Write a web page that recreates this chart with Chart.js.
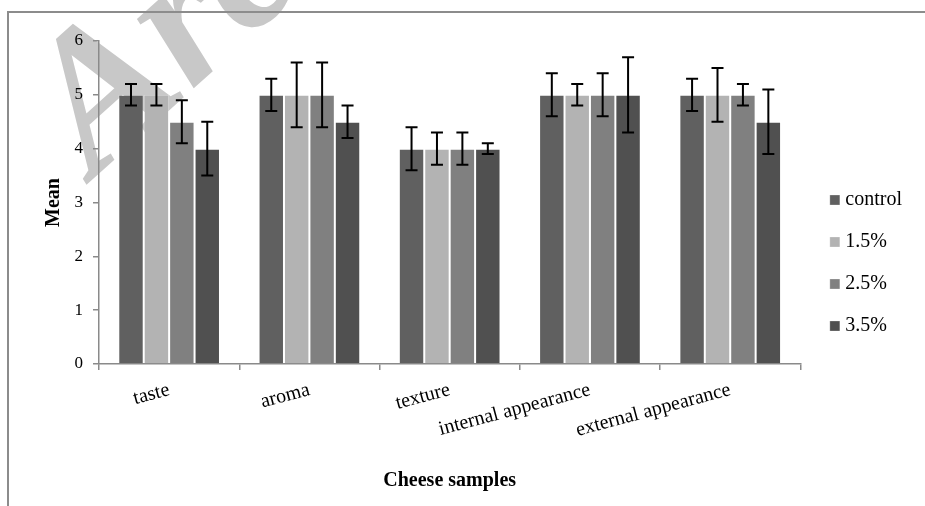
<!DOCTYPE html>
<html>
<head>
<meta charset="utf-8">
<script src="https://cdn.jsdelivr.net/npm/chart.js@4/dist/chart.umd.min.js"></script>
<style>
  html, body { margin: 0; padding: 0; background: #ffffff; }
  #wrap { width: 925px; height: 506px; position: relative; }
</style>
</head>
<body>
<div id="wrap"><canvas id="c" width="925" height="506"></canvas></div>
<script>
// ---- data ----
const categories = ['taste', 'aroma', 'texture', 'internal appearance', 'external appearance'];
const seriesNames = ['control', '1.5%', '2.5%', '3.5%'];
const controlValues = [5, 5, 4, 5, 5];
const p15Values     = [5, 5, 4, 5, 5];
const p25Values     = [4.5, 5, 4, 5, 5];
const p35Values     = [4, 4.5, 4, 5, 4.5];
const controlErr = [0.2, 0.3, 0.4, 0.4, 0.3];
const p15Err     = [0.2, 0.6, 0.3, 0.2, 0.5];
const p25Err     = [0.4, 0.6, 0.3, 0.4, 0.2];
const p35Err     = [0.5, 0.3, 0.1, 0.7, 0.6];
const yTicks = [0, 1, 2, 3, 4, 5, 6];

const seriesValues = [controlValues, p15Values, p25Values, p35Values];
const seriesErrors = [controlErr, p15Err, p25Err, p35Err];
const seriesColors = ['#606060', '#b3b3b3', '#808080', '#505050'];

const SERIF = '"Liberation Serif", "Times New Roman", serif';
const AXIS = '#8a8a8a';

const watermark = {
  id: 'watermark',
  beforeDraw(chart) {
    const ctx = chart.ctx;
    ctx.save();
    ctx.translate(94, 178);
    ctx.rotate(-42 * Math.PI / 180);
    ctx.font = 'italic bold 195px ' + SERIF;
    ctx.fillStyle = '#c8c8c8';
    ctx.textBaseline = 'alphabetic';
    ctx.fillText('Archive of SID', 0, 0);
    ctx.restore();
  }
};

const frame = {
  id: 'frame',
  afterDraw(chart) {
    const ctx = chart.ctx;
    ctx.save();
    ctx.strokeStyle = '#8c8c8c';
    ctx.lineWidth = 2;
    ctx.beginPath();
    ctx.moveTo(8, 506);
    ctx.lineTo(8, 12);
    ctx.lineTo(925, 12);
    ctx.stroke();
    ctx.restore();
  }
};

const errorBars = {
  id: 'errorBars',
  afterDatasetsDraw(chart) {
    const ctx = chart.ctx;
    const y = chart.scales.y;
    ctx.save();
    ctx.strokeStyle = '#000000';
    ctx.lineWidth = 2;
    chart.data.datasets.forEach((ds, di) => {
      const meta = chart.getDatasetMeta(di);
      const errs = seriesErrors[di];
      meta.data.forEach((bar, i) => {
        const v = ds.data[i];
        const e = errs[i];
        const x = bar.x;
        const yt = y.getPixelForValue(v + e);
        const yb = y.getPixelForValue(v - e);
        const cap = 6;
        ctx.beginPath();
        ctx.moveTo(x, yt); ctx.lineTo(x, yb);
        ctx.moveTo(x - cap, yt); ctx.lineTo(x + cap, yt);
        ctx.moveTo(x - cap, yb); ctx.lineTo(x + cap, yb);
        ctx.stroke();
      });
    });
    ctx.restore();
  }
};

const legendPlace = {
  id: 'legendPlace',
  afterLayout(chart) {
    const lg = chart.legend;
    if (!lg) return;
    const w = lg.right - lg.left;
    const h = lg.bottom - lg.top;
    lg.left = chart.chartArea.right + 12;
    lg.right = lg.left + w;
    lg.top = 168;
    lg.bottom = lg.top + h;
  }
};

new Chart(document.getElementById('c'), {
  type: 'bar',
  data: {
    labels: categories,
    datasets: seriesNames.map((name, i) => ({
      label: name,
      data: seriesValues[i],
      backgroundColor: seriesColors[i],
      borderColor: 'rgba(255,255,255,0.25)',
      borderWidth: 1,
      categoryPercentage: 0.725,
      barPercentage: 1.0
    }))
  },
  options: {
    responsive: false,
    animation: false,
    devicePixelRatio: 1,
    layout: { padding: { top: 41, left: 0, right: 25, bottom: 0 } },
    plugins: {
      tooltip: { enabled: false },
      legend: {
        position: 'right',
        align: 'start',
        labels: {
          usePointStyle: true,
          pointStyle: 'rect',
          boxWidth: 1,
          boxHeight: 10,
          padding: 22,
          color: '#000000',
          font: { family: SERIF, size: 20 }
        }
      }
    },
    scales: {
      x: {
        grid: { display: true, drawOnChartArea: false, drawTicks: true, tickLength: 6, color: AXIS, lineWidth: 1.5, offset: true },
        border: { display: true, color: AXIS, width: 1.5 },
        ticks: {
          color: '#000000',
          font: { family: SERIF, size: 20 },
          minRotation: 15,
          maxRotation: 15,
          padding: 8,
          autoSkip: false
        },
        title: {
          display: true,
          text: 'Cheese samples',
          color: '#000000',
          font: { family: SERIF, size: 20, weight: 'bold' },
          padding: { top: 0, bottom: 13 }
        },
        afterFit(s) { s.height = 142; }
      },
      y: {
        min: 0,
        max: 6,
        grid: { display: true, drawOnChartArea: false, drawTicks: true, tickLength: 6, color: AXIS, lineWidth: 1.5 },
        border: { display: true, color: AXIS, width: 1.5 },
        afterBuildTicks(s) { s.ticks = yTicks.map(v => ({ value: v })); },
        ticks: {
          color: '#000000',
          font: { family: SERIF, size: 17 },
          padding: 10
        },
        title: {
          display: true,
          text: 'Mean',
          color: '#000000',
          font: { family: SERIF, size: 20, weight: 'bold' },
          padding: { top: 42, bottom: 0 }
        },
        afterFit(s) { s.width = 99; }
      }
    }
  },
  plugins: [watermark, frame, errorBars, legendPlace]
});
</script>
</body>
</html>
